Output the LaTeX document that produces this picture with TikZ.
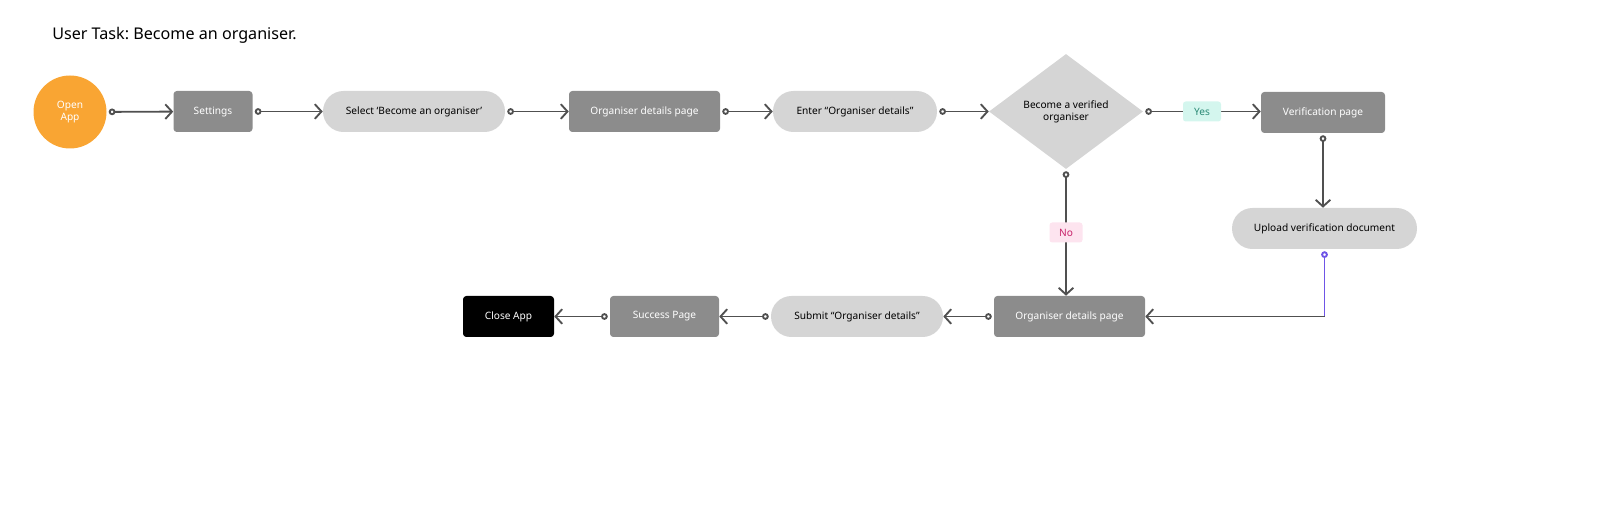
\documentclass[tikz,border=0pt]{standalone}
\usepackage{fontspec}
\setmainfont{Noto Sans}
\usetikzlibrary{shapes.geometric,arrows.meta}
\frenchspacing

\definecolor{appOrange}{HTML}{F9A533}
\definecolor{pageGrey}{HTML}{8C8C8C}
\definecolor{stepGrey}{HTML}{D5D5D5}
\definecolor{lineGrey}{HTML}{505050}
\definecolor{yesFill}{HTML}{D4F6EE}
\definecolor{yesText}{HTML}{2C8A76}
\definecolor{noFill}{HTML}{FDE4EF}
\definecolor{noText}{HTML}{C8246B}
\definecolor{linkPurple}{HTML}{6F55E6}

\begin{document}
\begin{tikzpicture}[x=0.75pt,y=-0.75pt,
    every node/.style={font=\fontsize{7.6}{9}\selectfont, inner sep=0pt, align=center},
    page/.style={rectangle, rounded corners=2.5pt, fill=pageGrey, text=white, minimum height=30.75pt},
    action/.style={rectangle, rounded corners=15.3pt, fill=stepGrey, minimum height=30.75pt},
    badge/.style={rectangle, rounded corners=2pt, minimum height=15pt},
    link/.style={draw=lineGrey, line width=1.4pt},
    flow/.style={link, {Circle[open,fill=white,length=5pt,width=5pt]}-{Straight Barb[length=5pt,width=11pt]}, shorten <=1.5pt}]
    \useasboundingbox (0,0) rectangle (1600,509);

    \node[anchor=west, font=\fontsize{12.1}{14}\selectfont] (title) at (52,35) {User Task: Become an organiser.};

    % top row
    \node[circle, fill=appOrange, text=white, minimum size=54.75pt] (open) at (70,112) {Open\\App};
    \node[page, minimum width=59.25pt] (settings) at (213,111.5) {Settings};
    \node[action, minimum width=136.5pt] (select) at (414,111.5) {Select `Become an organiser'};
    \node[page, minimum width=113.25pt] (details) at (644.5,111.5) {Organiser details page};
    \node[action, minimum width=123pt] (enter) at (855,111.5) {Enter ``Organiser details''};
    \node[diamond, fill=stepGrey, minimum width=115.5pt, minimum height=86.25pt] (verified) at (1066,111.5) {Become a verified\\organiser};
    \node[page, minimum width=93pt] (verifpage) at (1323,112.5) {Verification page};
    \node[action, minimum width=138.75pt] (upload) at (1324.5,228.5) {Upload verification document};

    % bottom row
    \node[page, minimum width=113.25pt] (details2) at (1069.5,316.5) {Organiser details page};
    \node[action, minimum width=129pt] (submit) at (857,316.5) {Submit ``Organiser details''};
    \node[page, minimum width=81.75pt] (success) at (664.5,316.5) {Success Page};
    \node[rectangle, rounded corners=2.5pt, fill=black, text=white, minimum width=68.25pt, minimum height=30.75pt] (close) at (508.5,316.5) {Close App};

    \draw[flow] (open) -- (settings);
    \draw[flow] (settings) -- (select);
    \draw[flow] (select) -- (details);
    \draw[flow] (details) -- (enter);
    \draw[flow] (enter) -- (verified);
    \draw[flow] (verified.east) -- node[badge, fill=yesFill, text=yesText, minimum width=28.5pt] (yes) {Yes} (verified.east -| verifpage.west);
    \draw[flow] (verifpage.south) -- (verifpage.south |- upload.north);
    \draw[flow] (verified.south) -- node[badge, fill=noFill, text=noText, minimum width=24.75pt] (no) {No} (verified.south |- details2.north);
    \coordinate (turn) at (upload.south |- details2.east);
    \draw[link, draw=linkPurple, {Circle[open,fill=white,length=5pt,width=5pt]}-, shorten <=1.5pt] (upload.south) -- (turn);
    \draw[link, -{Straight Barb[length=5pt,width=11pt]}] (turn) -- (details2.east);
    \draw[flow] (details2) -- (submit);
    \draw[flow] (submit) -- (success);
    \draw[flow] (success) -- (close);
\end{tikzpicture}
\end{document}
